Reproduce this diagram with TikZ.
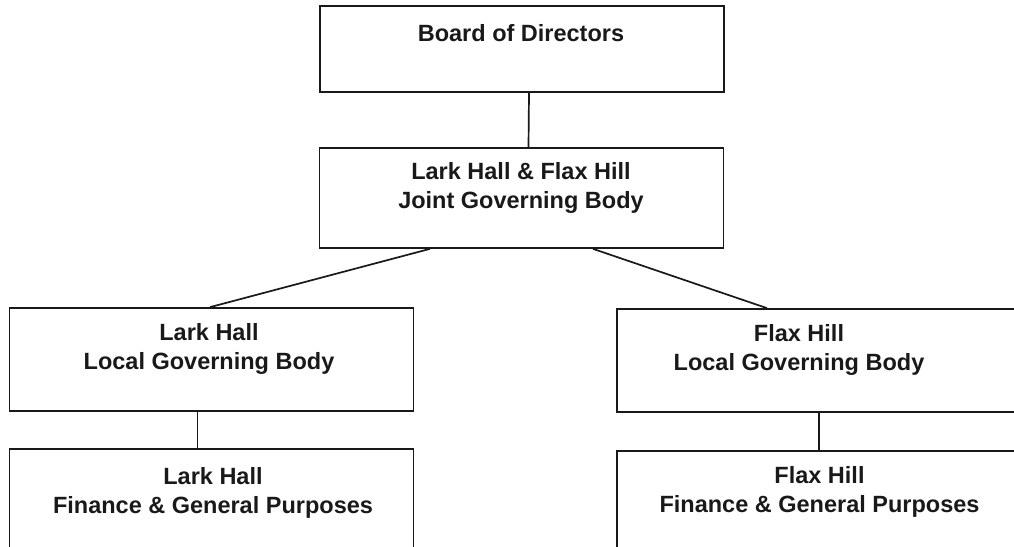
\documentclass[tikz,border=0pt]{standalone}
\usepackage{fontspec}
\setmainfont{Liberation Sans}
\begin{document}
\begin{tikzpicture}[x=1pt, y=-1pt, line width=1.7pt, black!90,
    unit/.style={draw, rectangle, minimum width=404pt, inner sep=0pt},
    txt/.style={font=\bfseries\fontsize{23.5}{29.5}\selectfont, align=center, inner sep=0pt}]
  \useasboundingbox (0,0) rectangle (1014,546);
  \clip (0,0) rectangle (1014,546);
  % boxes
  \node[unit, minimum height=86pt] (board) at (522,49) {};
  \node[unit, minimum height=100pt] (joint) at (521.5,198) {};
  \node[unit, minimum height=103pt] (larklgb) at (211.5,359.5) {};
  \node[unit, minimum height=103pt] (flaxlgb) at (819,360.5) {};
  \node[unit, minimum height=120pt] (larkfgp) at (211.5,509) {};
  \node[unit, minimum height=120pt] (flaxfgp) at (819,511) {};
  % texts
  \node[txt] (boardtxt) at (521,33) {Board of Directors};
  \node[txt] (jointtxt) at (521,188) {Lark Hall \& Flax Hill\\Joint Governing Body};
  \node[txt] (larklgbtxt) at (209,349) {Lark Hall\\Local Governing Body};
  \node[txt] (flaxlgbtxt) at (799,350) {Flax Hill\\Local Governing Body};
  \node[txt] (larkfgptxt) at (213,493) {Lark Hall\\Finance \& General Purposes};
  \node[txt] (flaxfgptxt) at (819.5,492) {Flax Hill\\Finance \& General Purposes};
  % connectors
  \draw ([xshift=7pt]board.south) -- ([xshift=7pt]joint.north);
  \draw ([xshift=-91.5pt]joint.south) -- ([xshift=-1.5pt]larklgb.north);
  \draw ([xshift=71.5pt]joint.south) -- ([xshift=-52pt]flaxlgb.north);
  \draw ([xshift=-14pt]larklgb.south) -- ([xshift=-14pt]larkfgp.north);
  \draw (flaxlgb.south) -- (flaxfgp.north);
\end{tikzpicture}
\end{document}
